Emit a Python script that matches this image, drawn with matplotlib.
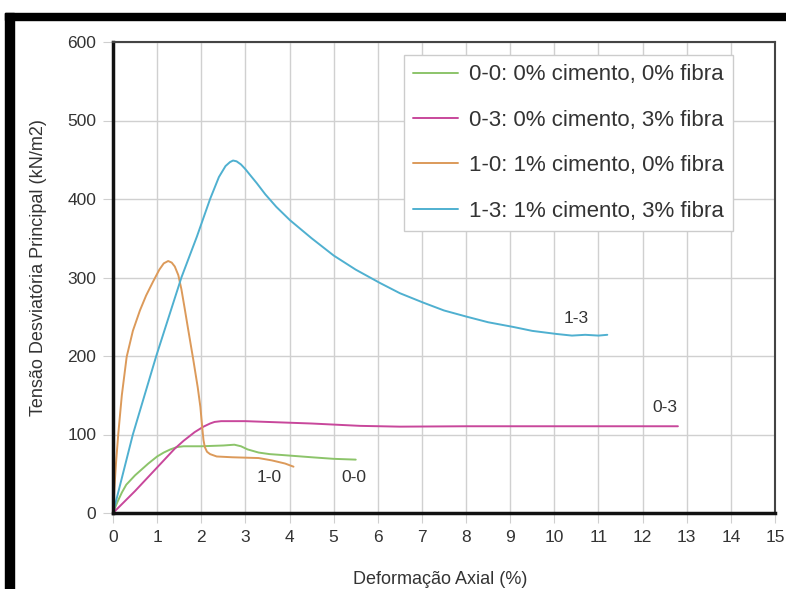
import matplotlib
matplotlib.use("Agg")
import matplotlib.pyplot as plt
from matplotlib.patches import Rectangle

plt.rcParams['font.family'] = ['Liberation Sans', 'DejaVu Sans']

# ---- data ----
x_00 = [0, 0.10, 0.20, 0.30, 0.50, 0.80, 1.00, 1.15, 1.30, 1.45, 1.60, 2.00, 2.50, 2.75, 2.90,
        3.05, 3.30, 3.55, 3.80, 4.50, 5.00, 5.50]
y_00 = [0, 14, 26, 36, 48, 63, 72, 77, 81, 84, 85, 85, 86, 87, 85,
        81, 77, 75, 74, 71, 69, 68]

x_03 = [0, 0.25, 0.50, 0.75, 1.00, 1.20, 1.40, 1.60, 1.85, 2.05, 2.20, 2.30, 2.45, 3.00, 3.50,
        4.50, 5.60, 6.50, 8.00, 10.0, 12.0, 12.8]
y_03 = [0, 14, 28, 43, 58, 70, 82, 92, 103, 110, 114, 116, 117, 117, 116,
        114, 111, 110, 110.5, 110.5, 110.5, 110.5]

x_10 = [0, 0.03, 0.07, 0.12, 0.20, 0.31, 0.45, 0.61, 0.75, 0.91, 1.05, 1.15, 1.25, 1.33, 1.40,
        1.48, 1.55, 1.62, 1.70, 1.82, 1.92, 1.98, 2.02, 2.05, 2.08, 2.13, 2.20, 2.35, 2.70,
        3.00, 3.30, 3.60, 3.90, 4.09]
y_10 = [0, 30, 65, 101, 150, 199, 232, 258, 277, 295, 310, 318, 321, 319, 314,
        303, 285, 262, 235, 195, 160, 135, 110, 93, 84, 78, 75, 72, 71,
        70.5, 70, 67, 63, 59]

x_13 = [0, 0.45, 0.98, 1.55, 1.90, 2.20, 2.40, 2.55, 2.65, 2.72, 2.80, 2.90, 3.00, 3.10, 3.26,
        3.45, 3.70, 4.01, 4.50, 5.00, 5.50, 6.05, 6.50, 7.03, 7.50, 8.02, 8.50, 9.07, 9.50,
        10.06, 10.40, 10.70, 11.00, 11.20]
y_13 = [0, 100, 200, 300, 352, 400, 428, 442, 447, 449, 448, 444, 438, 431, 420,
        406, 390, 373, 350, 328, 310, 293, 280, 268, 258, 250, 243, 237, 232,
        228, 226, 227, 226, 227]

labels = ["0-0: 0% cimento, 0% fibra", "0-3: 0% cimento, 3% fibra",
          "1-0: 1% cimento, 0% fibra", "1-3: 1% cimento, 3% fibra"]
short_labels = ["0-0", "0-3", "1-0", "1-3"]
label_pos_x = [5.45, 12.5, 3.55, 10.5]
label_pos_y = [45, 134, 45, 248]
colors = ['#8cc46a', '#c8479b', '#dc9a5a', '#4fb0d0']

x_ticks = list(range(0, 16))
y_ticks = [0, 100, 200, 300, 400, 500, 600]

# ---- figure ----
fig = plt.figure(figsize=(7.86, 5.89), dpi=100)
ax = fig.add_axes([113/786, 1 - 513/589, (775 - 113)/786, (513 - 42)/589])

series = [(x_00, y_00), (x_03, y_03), (x_10, y_10), (x_13, y_13)]
for (xs, ys), c, lab in zip(series, colors, labels):
    ax.plot(xs, ys, color=c, lw=1.4, label=lab, solid_joinstyle='round',
            solid_capstyle='round')

for lx, ly, t in zip(label_pos_x, label_pos_y, short_labels):
    ax.text(lx, ly, t, ha='center', va='center', fontsize=12.5, color='#333333')

ax.set_xlim(0, 15)
ax.set_ylim(0, 600)
ax.set_xticks(x_ticks)
ax.set_yticks(y_ticks)
ax.grid(True, color='#d0d0d0', lw=1.0)
ax.set_axisbelow(True)
ax.tick_params(axis='both', direction='out', length=7, color='#cfcfcf', labelsize=12.5,
               labelcolor='#333333', pad=5)

for s in ['top', 'right']:
    ax.spines[s].set_color('#444444')
    ax.spines[s].set_linewidth(1.5)
for s in ['left', 'bottom']:
    ax.spines[s].set_color('#111111')
    ax.spines[s].set_linewidth(2.5)

ax.set_xlabel("Deformação Axial (%)", fontsize=13, color='#333333')
ax.xaxis.set_label_coords((440 - 113)/662, -(571 - 513)/471)
ax.set_ylabel("Tensão Desviatória Principal (kN/m2)", fontsize=13, color='#333333')
ax.yaxis.set_label_coords(-(113 - 47)/662, (513 - 268)/471)

leg = ax.legend(loc='upper right', bbox_to_anchor=(733/786, 1 - 55/589), bbox_transform=fig.transFigure,
                borderaxespad=0, fontsize=16, frameon=True, fancybox=False, edgecolor='#cccccc',
                framealpha=1, labelspacing=1.1, handlelength=2.0, handletextpad=0.5,
                borderpad=0.42)
leg.get_frame().set_linewidth(1.0)
for t in leg.get_texts():
    t.set_color('#333333')

# black border (photo frame) on top and left
fig.patches.append(Rectangle((5/786, 0), 9/786, 1 - 13/589, transform=fig.transFigure,
                             color='black', zorder=10))
fig.patches.append(Rectangle((5/786, 1 - 20/589), 1, 7/589, transform=fig.transFigure,
                             color='black', zorder=10))

fig.savefig("out.png", dpi=100)
